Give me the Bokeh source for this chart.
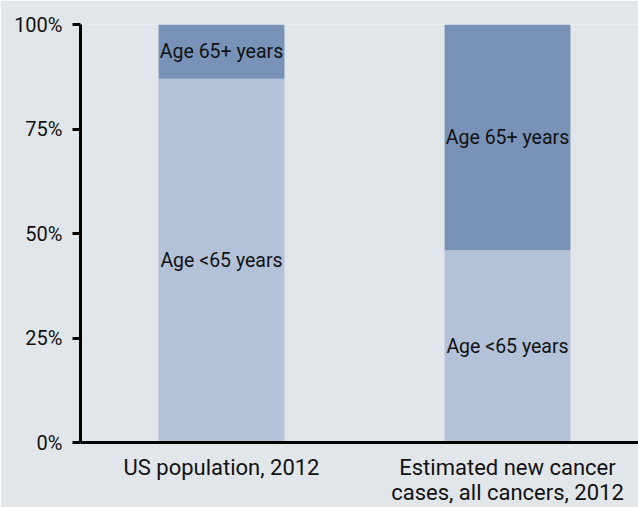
from bokeh.plotting import figure
from bokeh.models import ColumnDataSource, Range1d, FixedTicker, PrintfTickFormatter
from bokeh.core.properties import value
from bokeh.embed import file_html
from bokeh.resources import INLINE

categories = ["US population, 2012", "Estimated new cancer\ncases, all cancers, 2012"]
under65 = [87, 46]
over65 = [13, 54]
seg_labels = ["Age <65 years", "Age 65+ years"]
y_ticks = [0, 25, 50, 75, 100]

xs = [1, 2]
bg = "#e1e6ea"
light = "#b3c1d9"
dark = "#7993b8"
font = "Roboto"

p = figure(width=638, height=507, output_backend="svg", toolbar_location=None,
           x_range=Range1d(0.507, 2.458), y_range=Range1d(0, 100),
           min_border_left=80, min_border_right=0, min_border_top=24, min_border_bottom=65)
p.background_fill_color = bg
p.border_fill_color = bg
p.outline_line_color = None
p.xgrid.visible = False
p.ygrid.visible = False

src = ColumnDataSource(dict(
    x=xs, u=under65, o=over65,
    top_u=under65, top_o=[a + b for a, b in zip(under65, over65)],
    mid_u=[a / 2 for a in under65],
    mid_o=[a + b / 2 for a, b in zip(under65, over65)],
    lab_u=[seg_labels[0]] * 2, lab_o=[seg_labels[1]] * 2,
))

p.vbar(x="x", bottom=0, top="top_u", width=0.44, source=src, fill_color=light, line_color=None)
p.vbar(x="x", bottom="top_u", top="top_o", width=0.44, source=src, fill_color=dark, line_color=None)

for col, mid in (("lab_u", "mid_u"), ("lab_o", "mid_o")):
    p.text(x="x", y=mid, text=col, source=src, text_align="center", text_baseline="middle",
           text_font=value(font), text_font_size="19.5px", text_color="#111111")

# y axis
ya = p.yaxis[0]
ya.ticker = FixedTicker(ticks=y_ticks)
ya.formatter = PrintfTickFormatter(format="%d%%")
ya.axis_line_width = 3
ya.axis_line_color = "black"
ya.major_tick_line_width = 3
ya.major_tick_line_color = "black"
ya.major_tick_out = 8
ya.major_tick_in = 0
ya.minor_tick_line_color = None
ya.major_label_standoff = 10
ya.major_label_text_font = font
ya.major_label_text_font_size = "20px"
ya.major_label_text_color = "#111111"

# x axis
xa = p.xaxis[0]
xa.ticker = FixedTicker(ticks=xs)
xa.major_label_overrides = {x: c for x, c in zip(xs, categories)}
xa.axis_line_width = 3
xa.axis_line_color = "black"
xa.major_tick_line_color = None
xa.minor_tick_line_color = None
xa.major_label_standoff = 6
xa.major_label_text_font = font
xa.major_label_text_font_size = "22px"
xa.major_label_text_line_height = 1.0
xa.major_label_text_color = "#111111"

open("out.html", "w").write(file_html(p, INLINE))
